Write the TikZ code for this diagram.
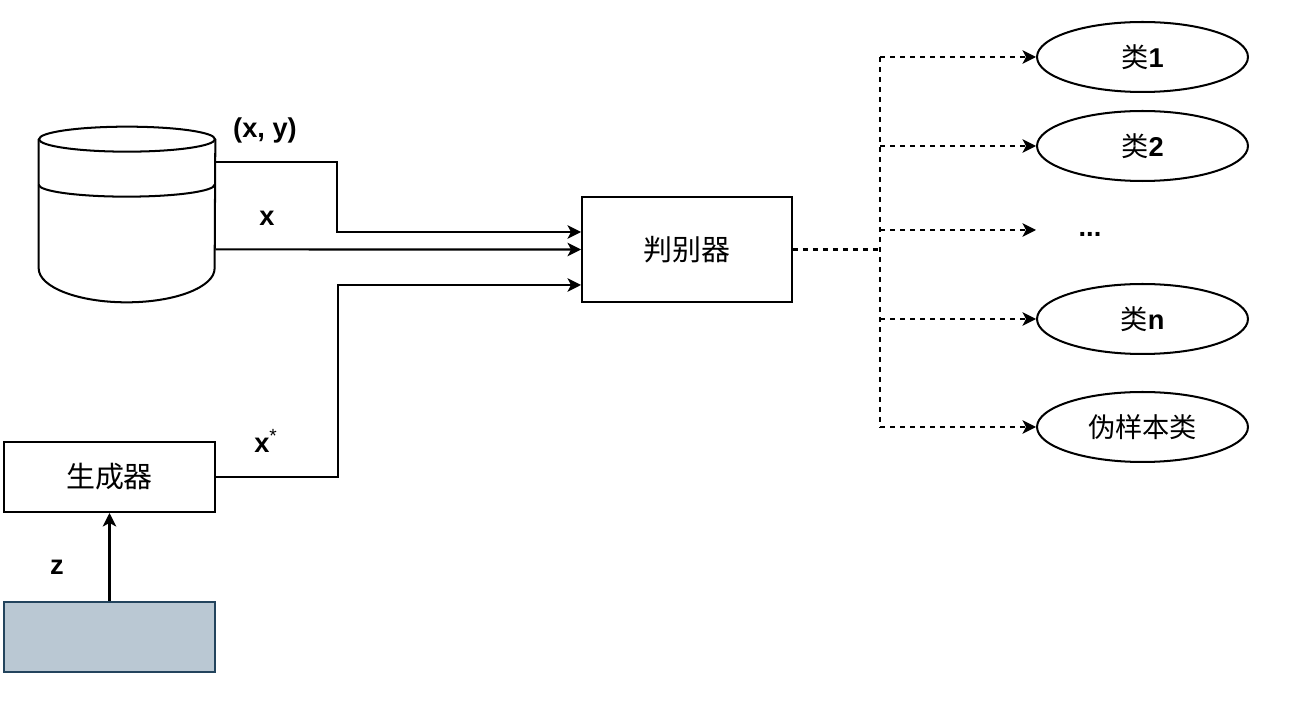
\documentclass[tikz,border=0pt]{standalone}
\usepackage{fontspec}
\setmainfont{Liberation Sans}
\newfontfamily\cjk{Noto Sans CJK SC}
\usetikzlibrary{arrows.meta, positioning, calc, shapes.geometric}
\definecolor{zfill}{HTML}{BAC8D3}
\definecolor{zdraw}{HTML}{23445D}

\begin{document}
\begin{tikzpicture}[
    x=0.02cm, y=-0.02cm,
    thickline/.style={line width=1.15pt},
    box/.style={draw, line width=1.15pt, minimum width=4.22cm, minimum height=1.4cm, inner sep=0pt, font=\cjk\fontsize{16.5}{19}\selectfont},
    cls/.style={draw, ellipse, line width=1.15pt, minimum width=4.22cm, minimum height=1.4cm, inner sep=0pt, font=\fontsize{15.5}{18}\selectfont\bfseries},
    arrow/.style={-{Stealth[length=0.27cm, width=0.27cm, inset=0.07cm]}, line width=1.15pt},
    dline/.style={line width=1.15pt, dash pattern=on 0.1cm off 0.1cm},
    darrow/.style={-{Stealth[length=0.27cm, width=0.27cm, inset=0.07cm]}, line width=1.15pt, dash pattern=on 0.1cm off 0.1cm},
    lbl/.style={font=\fontsize{15.5}{18}\selectfont\bfseries, inner sep=0pt}
]
    \useasboundingbox (0,0) rectangle (1289,705);
    \node[minimum width=3.52cm, minimum height=3.5cm, inner sep=0pt] (db) at (127,214.5) {};
    \draw[thickline] ([yshift=-0.25cm]db.north) ellipse[x radius=1.76cm, y radius=0.25cm];
    \draw[thickline] ([yshift=-0.25cm]db.north west) -- ([yshift=0.68cm]db.south west)
        arc[start angle=180, end angle=360, x radius=1.76cm, y radius=0.68cm]
        -- ([yshift=-0.25cm]db.north east);
    \draw[thickline] ([yshift=-1.16cm]db.north west) arc[start angle=180, end angle=360, x radius=1.76cm, y radius=0.24cm];

    \node[box, minimum width=4.2cm, minimum height=2.1cm] (disc) at (687,249.5) {判别器};
    \node[box] (gen) at (109.5,477) {生成器};
    \node[box, fill=zfill, draw=zdraw, below=1.76cm of gen] (noise) {};

    \node[lbl] (lxy) at (265,130) {(x, y)};
    \node[lbl] (lx) at (267,218) {x};
    \node[lbl] (lxs) at (266,441) {x\textsuperscript{\mdseries *}};
    \node[lbl] (lz) at (57,567) {z};

    \draw[arrow] ([yshift=1.05cm]db.east) -- ++(2.44cm,0) |- ([yshift=0.35cm]disc.west);
    \draw[arrow] ([yshift=-0.7cm]db.east) -- (disc.west);
    \draw[arrow] (gen.east) -- ++(2.44cm,0) |- ([yshift=-0.71cm]disc.west);
    \draw[arrow] (noise) -- (gen);

    \node[cls] (c1) at (1142.5,57) {{\cjk\mdseries 类}1};
    \node[cls, below=0.34cm of c1] (c2) {{\cjk\mdseries 类}2};
    \node[lbl, text height=0.9em, text depth=0.2em] (dots) at (1090,230) {...};
    \node[cls] (cn) at (1142.5,319) {{\cjk\mdseries 类}n};
    \node[cls, below=0.72cm of cn] (fake) {{\cjk\mdseries 伪样本类}};

    \coordinate (hub) at (880,249.5);
    \draw[dline] (disc.east) -- (hub);
    \draw[dline] (hub |- c1) -- (hub |- fake);
    \foreach \n in {c1,c2,cn,fake}
        \draw[darrow] (hub |- \n) -- (\n.west);
    \draw[darrow] (hub |- dots) -- (c1.west |- dots);
\end{tikzpicture}
\end{document}
